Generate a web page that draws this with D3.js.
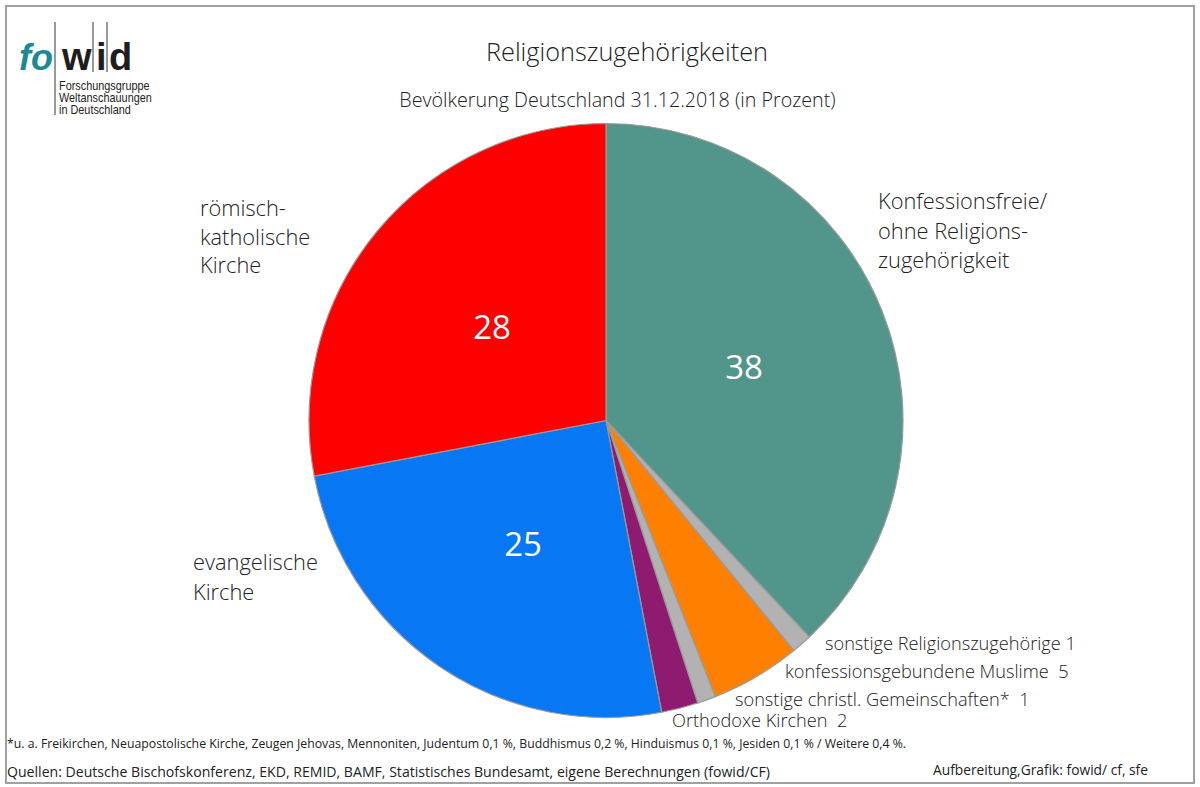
<!DOCTYPE html>
<html>
<head>
<meta charset="utf-8">
<script src="https://cdn.jsdelivr.net/npm/d3@7"></script>
<style>
  html, body { margin: 0; padding: 0; background: #fff; }
  svg { display: block; font-family: "Open Sans", "Noto Sans", sans-serif; }
</style>
</head>
<body>
<svg id="chart" width="1200" height="787"></svg>
<script>
// ---- data ----
const categories = [
  "Konfessionsfreie/ ohne Religionszugehörigkeit",
  "sonstige Religionszugehörige",
  "konfessionsgebundene Muslime",
  "sonstige christl. Gemeinschaften*",
  "Orthodoxe Kirchen",
  "evangelische Kirche",
  "römisch-katholische Kirche"
];
const values = [38.0, 1.1, 4.9, 1.0, 2.0, 25.0, 28.0];
const displayValues = ["38", "1", "5", "1", "2", "25", "28"];
const colors = ["#52958b", "#b2b2b2", "#ff8000", "#b2b2b2", "#8e1b70", "#0777f3", "#ff0000"];

const title = "Religionszugehörigkeiten";
const subtitle = "Bevölkerung Deutschland 31.12.2018 (in Prozent)";
const footnote = "*u. a. Freikirchen, Neuapostolische Kirche, Zeugen Jehovas, Mennoniten, Judentum 0,1 %, Buddhismus 0,2 %, Hinduismus 0,1 %, Jesiden 0,1 % / Weitere 0,4 %.";
const sources = "Quellen: Deutsche Bischofskonferenz, EKD, REMID, BAMF, Statistisches Bundesamt, eigene Berechnungen (fowid/CF)";
const credit = "Aufbereitung,Grafik: fowid/ cf, sfe";

// big outside labels (multi-line)
const bigLabels = [
  { i: 0, lines: ["Konfessionsfreie/", "ohne Religions-", "zugehörigkeit"], x: 878, y: 209, dy: 29.5 },
  { i: 6, lines: ["römisch-", "katholische", "Kirche"], x: 200, y: 216, dy: 28.5 },
  { i: 5, lines: ["evangelische", "Kirche"], x: 193, y: 570, dy: 29.5 }
];
// small outside labels
const smallLabels = [
  { i: 1, text: "sonstige Religionszugehörige 1", x: 825, y: 650 },
  { i: 2, text: "konfessionsgebundene Muslime  5", x: 785, y: 678 },
  { i: 3, text: "sonstige christl. Gemeinschaften*  1", x: 735, y: 706 },
  { i: 4, text: "Orthodoxe Kirchen  2", x: 672, y: 727 }
];
// inside value labels
const insideLabels = [
  { i: 0, x: 744, y: 379 },
  { i: 6, x: 492, y: 339 },
  { i: 5, x: 523, y: 556 }
];

const svg = d3.select("#chart");

// frame
svg.append("rect").attr("x", 6).attr("y", 6).attr("width", 1188).attr("height", 777)
  .attr("fill", "#fff").attr("stroke", "#a0a0a0").attr("stroke-width", 2);

// logo
const logo = svg.append("g");
const logoFont = "Liberation Sans, Arial, sans-serif";
logo.append("text").attr("x", 19).attr("y", 70).attr("font-family", logoFont)
  .attr("font-weight", "bold").attr("font-style", "italic").attr("font-size", 36).attr("fill", "#1a8a96").text("fo");
logo.append("text").attr("x", 62).attr("y", 70).attr("font-family", logoFont)
  .attr("font-weight", "bold").attr("font-size", 38).attr("fill", "#1e1e1e").text("w");
logo.append("text").attr("x", 96).attr("y", 70).attr("font-family", logoFont)
  .attr("font-weight", "bold").attr("font-size", 38).attr("fill", "#1e1e1e").text("i");
logo.append("text").attr("x", 109).attr("y", 70).attr("font-family", logoFont)
  .attr("font-weight", "bold").attr("font-size", 38).attr("fill", "#1e1e1e").text("d");
[[55, 22, 115], [93, 22, 72], [107, 22, 72]].forEach(([x, y1, y2]) => {
  logo.append("line").attr("x1", x).attr("x2", x).attr("y1", y1).attr("y2", y2)
    .attr("stroke", "#333").attr("stroke-width", 1);
});
["Forschungsgruppe", "Weltanschauungen", "in Deutschland"].forEach((t, k) => {
  logo.append("text").attr("x", 59).attr("y", 90 + k * 12.2)
    .attr("font-family", "Liberation Sans Narrow, Liberation Sans, Arial, sans-serif")
    .attr("font-size", 12.5).attr("fill", "#222")
    .attr("transform", `translate(59,0) scale(0.87,1) translate(-59,0)`)
    .text(t);
});

// titles
svg.append("text").attr("x", 627).attr("y", 61).attr("text-anchor", "middle")
  .attr("font-size", 25.3).attr("font-weight", 300).attr("fill", "#222").text(title);
svg.append("text").attr("x", 617.5).attr("y", 107).attr("text-anchor", "middle")
  .attr("font-size", 19.7).attr("font-weight", 300).attr("fill", "#222").text(subtitle);

// pie
const cx = 606, cy = 420.5, r = 297;
const pie = d3.pie().sort(null).value(d => d)(values);
const arc = d3.arc().innerRadius(0).outerRadius(r);
const g = svg.append("g").attr("transform", `translate(${cx},${cy})`);
g.selectAll("path").data(pie).join("path")
  .attr("d", arc)
  .attr("fill", (d, i) => colors[i])
  .attr("stroke", "#9a9a9a").attr("stroke-width", 1.2);

// inside labels
insideLabels.forEach(l => {
  svg.append("text").attr("x", l.x).attr("y", l.y).attr("text-anchor", "middle")
    .attr("font-size", 33).attr("font-weight", 400).attr("fill", "#fff").text(displayValues[l.i]);
});

// big labels
bigLabels.forEach(l => {
  const t = svg.append("text").attr("font-size", 21.8).attr("font-weight", 300).attr("fill", "#222");
  l.lines.forEach((line, k) => {
    t.append("tspan").attr("x", l.x).attr("y", l.y + k * l.dy).text(line);
  });
});

// small labels
smallLabels.forEach(l => {
  svg.append("text").attr("x", l.x).attr("y", l.y).attr("font-size", 18.2).attr("font-weight", 300)
    .attr("fill", "#222").attr("xml:space", "preserve").style("white-space", "pre").text(l.text);
});

// footer
svg.append("text").attr("x", 7).attr("y", 748).attr("font-size", 12.5).attr("font-weight", 400)
  .attr("fill", "#222").attr("textLength", 899).attr("lengthAdjust", "spacingAndGlyphs").text(footnote);
svg.append("text").attr("x", 7).attr("y", 777).attr("font-size", 14).attr("font-weight", 400)
  .attr("fill", "#222").attr("textLength", 763).attr("lengthAdjust", "spacingAndGlyphs").text(sources);
svg.append("text").attr("x", 933).attr("y", 775).attr("font-size", 14).attr("font-weight", 400)
  .attr("fill", "#222").attr("textLength", 215).attr("lengthAdjust", "spacingAndGlyphs").text(credit);
</script>
</body>
</html>
